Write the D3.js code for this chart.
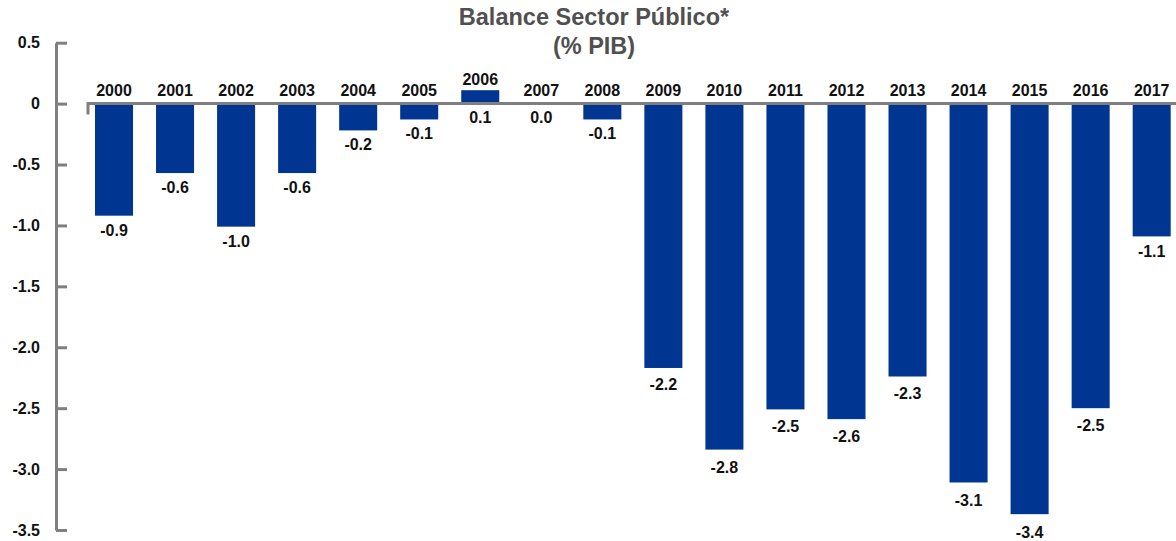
<!DOCTYPE html>
<html>
<head>
<meta charset="utf-8">
<script src="https://cdn.jsdelivr.net/npm/d3@7"></script>
<style>
  body { margin: 0; background: #fff; }
  text { font-family: "Liberation Sans", Arial, Helvetica, sans-serif; font-weight: bold; }
</style>
</head>
<body>
<svg id="chart" width="1176" height="541"></svg>
<script>
// data
const years = ["2000","2001","2002","2003","2004","2005","2006","2007","2008",
               "2009","2010","2011","2012","2013","2014","2015","2016","2017"];
const balance = [-0.92,-0.57,-1.01,-0.57,-0.22,-0.13,0.11,0,-0.13,
                 -2.17,-2.84,-2.51,-2.59,-2.24,-3.11,-3.37,-2.50,-1.09];
const valueLabels = ["-0.9","-0.6","-1.0","-0.6","-0.2","-0.1","0.1","0.0","-0.1",
                     "-2.2","-2.8","-2.5","-2.6","-2.3","-3.1","-3.4","-2.5","-1.1"];
const yTicks = [0.5, 0, -0.5, -1.0, -1.5, -2.0, -2.5, -3.0, -3.5];
const yTickLabels = ["0.5","0","-0.5","-1.0","-1.5","-2.0","-2.5","-3.0","-3.5"];

const svg = d3.select("#chart");
const barColor = "#003591";
const axisColor = "#7f7f7f";

let y = d3.scaleLinear().domain([0.5, -3.5]).range([42.7, 530]);
let x = d3.scaleBand().domain(years).range([95, 1170.7]).paddingInner(0.377).paddingOuter(0);

// title
svg.append("text")
    .attr("x", 594).attr("y", 25)
    .attr("text-anchor", "middle")
    .style("font-size", "23.5px").style("fill", "#505050")
    .text("Balance Sector Público*");
svg.append("text")
    .attr("x", 594).attr("y", 54)
    .attr("text-anchor", "middle")
    .style("font-size", "23.5px").style("fill", "#505050")
    .text("(% PIB)");

// y axis
let yAxis = svg.append("g")
    .attr("transform", "translate(56,0)")
    .call(d3.axisLeft(y)
        .tickValues(yTicks)
        .tickFormat(function(d, i) { return yTickLabels[i]; })
        .tickSize(-11)
        .tickSizeOuter(0)
        .tickPadding(16));
yAxis.select(".domain").style("stroke", axisColor).style("stroke-width", 3);
yAxis.selectAll(".tick line").style("stroke", axisColor).style("stroke-width", 3);
yAxis.selectAll(".tick text")
    .style("font-size", "16px").style("fill", "#111")
    .style("font-family", '"Liberation Sans", Arial, sans-serif')
    .style("font-weight", "bold");

// bars
svg.append("g")
    .selectAll("rect")
    .data(balance)
    .enter().append("rect")
    .attr("x", function(d, i) { return x(years[i]); })
    .attr("y", function(d) { return y(Math.max(d, 0)); })
    .attr("width", x.bandwidth())
    .attr("height", function(d) { return Math.abs(y(d) - y(0)); })
    .style("fill", barColor);

// zero line
svg.append("path")
    .attr("d", "M88," + (y(0) + 11) + "V" + y(0) + "H1176")
    .style("fill", "none")
    .style("stroke", axisColor)
    .style("stroke-width", 3);

// year labels above the bars / zero line
svg.append("g")
    .selectAll("text")
    .data(years)
    .enter().append("text")
    .attr("x", function(d) { return x(d) + x.bandwidth() / 2; })
    .attr("y", function(d, i) { return y(Math.max(balance[i], 0)) - (balance[i] > 0 ? 5 : 8); })
    .attr("text-anchor", "middle")
    .style("font-size", "16px").style("fill", "#111")
    .text(function(d) { return d; });

// value labels below the bars
svg.append("g")
    .selectAll("text")
    .data(balance)
    .enter().append("text")
    .attr("x", function(d, i) { return x(years[i]) + x.bandwidth() / 2; })
    .attr("y", function(d) {
        let end = y(Math.min(d, 0));
        return end + 19 + 0.012 * (end - y(0));
    })
    .attr("text-anchor", "middle")
    .style("font-size", "16px").style("fill", "#111")
    .text(function(d, i) { return valueLabels[i]; });
</script>
</body>
</html>
